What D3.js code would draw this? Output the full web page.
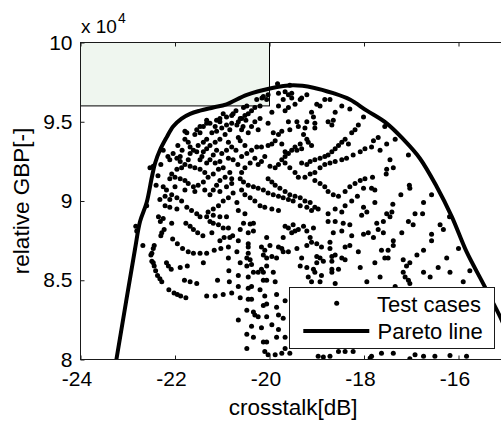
<!DOCTYPE html>
<html>
<head>
<meta charset="utf-8">
<script src="https://cdn.jsdelivr.net/npm/d3@7"></script>
<style>
  html, body { margin: 0; padding: 0; background: #fff; overflow: hidden; }
  svg { display: block; font-family: Arial, "Liberation Sans", sans-serif; }
</style>
</head>
<body>
<svg id="chart" width="501" height="423"></svg>
<script>
// Axis ticks
const crosstalkTicks = [-24, -22, -20, -18, -16];
const gbpTicks = [8, 8.5, 9, 9.5, 10];          // relative GBP, in units of 1e4

// Target region (crosstalk <= -20 dB, GBP >= 9.6e4)
const regionCrosstalk = [-24, -20];
const regionGbp = [9.6, 10];

// Pareto front: [crosstalk dB, relative GBP / 1e4]
const paretoLine = [
  [-23.24, 8.00], [-22.85, 8.69], [-22.74, 8.87], [-22.60, 8.99], [-22.49, 9.15],
  [-22.42, 9.24], [-22.32, 9.32], [-22.18, 9.40], [-22.04, 9.47], [-21.86, 9.52],
  [-21.68, 9.55], [-21.47, 9.57], [-21.19, 9.59], [-20.91, 9.61], [-20.48, 9.67],
  [-19.99, 9.71], [-19.50, 9.73], [-19.07, 9.715], [-18.65, 9.68], [-18.30, 9.64],
  [-17.94, 9.57], [-17.52, 9.49], [-17.17, 9.39], [-16.82, 9.27], [-16.46, 9.09],
  [-16.14, 8.90], [-15.83, 8.68], [-15.48, 8.48], [-15.12, 8.27], [-15.00, 8.19]
];

// Test cases: [crosstalk dB, relative GBP / 1e4]
const testCases = [
  // lower left arcs
  [-22.83,8.84],[-22.81,8.81],[-22.68,8.72],[-22.31,8.87],[-22.07,8.86],[-22.23,8.82],[-22.28,8.80],[-22.30,8.78],
  [-22.44,8.72],[-22.46,8.70],[-22.49,8.67],[-22.51,8.66],[-22.49,8.62],[-22.46,8.61],[-22.44,8.59],[-22.41,8.56],
  [-22.37,8.53],[-22.32,8.51],[-22.28,8.49],[-22.13,8.44],[-22.02,8.42],[-21.95,8.41],[-21.88,8.40],[-21.77,8.39],
  [-22.18,8.61],[-22.14,8.59],[-22.08,8.57],[-21.89,8.58],[-21.74,8.59],[-22.05,8.76],[-21.95,8.73],[-21.84,8.70],
  [-21.72,8.68],[-21.61,8.67],[-21.47,8.67],[-21.33,8.67],[-21.17,8.69],[-21.03,8.70],[-20.87,8.71],[-20.84,8.77],
  [-20.96,8.77],[-21.05,8.75],[-21.80,8.50],[-21.68,8.49],[-21.54,8.48],[-21.40,8.61],[-21.10,8.50],[-20.85,8.49],
  [-21.33,8.40],[-21.15,8.40],[-20.98,8.41],[-20.80,8.42],[-20.87,8.64],[-20.86,8.56],[-21.77,8.86],[-21.68,8.84],
  [-21.61,8.82],[-21.52,8.80],[-21.41,8.78],[-21.26,8.87],[-21.19,8.86],[-21.08,8.85],[-20.98,8.83],[-20.87,8.83],
  [-20.78,8.78],[-21.22,8.80],
  // lower middle
  [-20.55,8.86],[-20.41,8.855],[-20.34,8.86],[-20.62,8.82],[-20.45,8.80],[-20.34,8.81],[-20.66,8.75],[-20.45,8.73],
  [-20.45,8.71],[-20.69,8.68],[-20.45,8.67],[-20.48,8.64],[-20.41,8.63],[-20.62,8.61],[-20.38,8.60],[-20.48,8.59],
  [-20.66,8.53],[-20.45,8.52],[-20.34,8.55],[-20.66,8.46],[-20.45,8.45],[-20.38,8.46],[-20.62,8.39],[-20.45,8.38],
  [-20.38,8.38],[-20.48,8.31],[-20.34,8.30],[-20.31,8.28],[-20.66,8.25],[-20.38,8.21],[-20.48,8.16],[-20.34,8.14],
  [-20.48,8.07],[-20.06,8.77],[-19.99,8.72],[-20.10,8.69],[-20.13,8.66],[-20.06,8.64],[-19.95,8.65],[-19.85,8.64],
  [-20.06,8.59],[-20.17,8.57],[-20.24,8.55],[-20.13,8.55],[-19.92,8.55],[-20.13,8.50],[-20.06,8.50],[-19.88,8.49],
  [-20.20,8.44],[-20.10,8.40],[-19.85,8.41],[-19.67,8.37],[-20.06,8.35],[-20.13,8.34],[-19.85,8.33],[-20.24,8.27],
  [-20.06,8.27],[-19.81,8.28],[-19.71,8.26],[-20.17,8.20],[-19.95,8.22],[-19.81,8.19],[-19.85,8.14],[-19.67,8.14],
  [-20.13,8.11],[-20.06,8.11],[-20.10,8.05],[-19.74,8.04],[-19.88,8.03],[-19.67,8.07],[-19.57,8.04],[-20.03,8.03],
  [-20.17,8.71],[-19.81,8.71],[-19.74,8.70],[-19.71,8.68],[-19.60,8.68],[-19.67,8.84],[-19.60,8.83],[-19.71,8.77],
  [-19.53,8.80],[-19.46,8.81],[-19.39,8.82],[-19.50,8.85],[-19.28,8.84],[-19.21,8.81],[-19.14,8.77],[-19.07,8.83],
  [-19.21,8.72],[-19.11,8.74],[-19.00,8.73],[-18.90,8.71],[-18.72,8.70],[-19.42,8.70],[-19.32,8.64],[-19.35,8.59],
  [-19.21,8.58],[-19.07,8.57],[-19.18,8.52],[-19.04,8.55],[-18.90,8.53],[-18.93,8.49],[-19.11,8.49],[-19.00,8.65],
  [-18.93,8.64],[-18.86,8.62],[-19.00,8.61],[-18.68,8.65],[-18.61,8.66],[-18.68,8.62],[-18.68,8.57],[-18.68,8.55],
  [-18.54,8.57],[-18.47,8.64],[-18.40,8.63],[-18.30,8.72],[-18.40,8.71],[-18.26,8.78],[-18.12,8.68],[-18.08,8.58],
  [-18.01,8.79],[-17.91,8.80],[-17.94,8.49],[-18.76,8.87],[-18.61,8.87],[-18.44,8.86],[-18.30,8.85],[-18.47,8.81],
  [-18.65,8.80],[-18.72,8.74],[-18.61,8.48],[-18.97,8.02],[-18.86,8.015],[-18.72,8.02],[-18.54,8.05],[-18.40,8.05],
  [-18.23,8.05],[-17.87,8.01],[-17.03,8.005],
  // lower right
  [-17.63,8.04],[-17.38,8.04],[-16.92,8.03],[-16.74,8.02],[-16.50,8.02],[-16.18,8.025],[-15.83,8.02],[-17.84,8.02],
  [-17.73,8.86],[-17.59,8.87],[-17.70,8.82],[-17.80,8.77],[-17.59,8.80],[-17.38,8.75],[-17.38,8.72],[-17.20,8.80],
  [-17.06,8.87],[-16.96,8.85],[-16.57,8.79],[-16.57,8.75],[-16.39,8.85],[-16.32,8.82],[-17.63,8.69],[-17.49,8.69],
  [-17.56,8.64],[-17.49,8.64],[-17.77,8.61],[-16.88,8.66],[-16.74,8.69],[-17.17,8.63],[-17.03,8.61],[-17.10,8.59],
  [-17.17,8.55],[-17.13,8.52],[-17.06,8.50],[-17.03,8.48],[-17.66,8.52],[-17.34,8.46],[-16.74,8.55],[-16.60,8.52],
  [-16.43,8.58],[-16.25,8.64],[-16.18,8.55],[-16.00,8.70],[-15.90,8.49],[-15.76,8.56],
  // upper right
  [-17.56,9.47],[-17.70,9.40],[-17.80,9.38],[-17.84,9.34],[-17.66,9.32],[-17.52,9.36],[-17.34,9.39],[-17.06,9.29],
  [-17.45,9.26],[-17.38,9.21],[-17.52,9.20],[-17.53,9.17],[-17.82,9.15],[-17.84,9.08],[-17.77,9.07],[-17.77,8.99],
  [-17.04,9.10],[-17.03,9.08],[-17.22,9.04],[-16.57,9.04],[-17.39,8.98],[-17.52,8.92],[-17.41,8.93],[-17.45,8.90],
  [-16.92,8.92],[-16.76,8.92],[-16.74,8.99],[-16.19,8.90],
  // upper middle
  [-19.83,9.74],[-19.57,9.73],[-20.03,9.67],[-20.06,9.64],[-20.20,9.60],[-20.31,9.59],[-20.38,9.57],[-20.45,9.55],
  [-20.52,9.54],[-20.59,9.52],[-20.66,9.50],[-20.69,9.48],[-19.81,9.68],[-19.67,9.69],[-19.60,9.67],[-19.53,9.68],
  [-19.21,9.67],[-19.35,9.64],[-19.46,9.61],[-19.60,9.59],[-19.67,9.57],[-19.81,9.60],[-19.95,9.56],[-20.03,9.49],
  [-20.20,9.52],[-20.31,9.50],[-20.38,9.47],[-20.24,9.45],[-20.45,9.43],[-20.59,9.45],[-20.66,9.40],[-19.00,9.61],
  [-18.93,9.60],[-18.83,9.64],[-18.72,9.64],[-18.61,9.56],[-18.47,9.60],[-18.30,9.58],[-19.11,9.56],[-19.07,9.53],
  [-19.04,9.49],[-19.04,9.46],[-19.21,9.50],[-19.25,9.46],[-19.42,9.50],[-19.39,9.47],[-19.60,9.50],[-19.57,9.45],
  [-19.74,9.44],[-19.81,9.42],[-19.92,9.43],[-18.65,9.51],[-18.68,9.48],[-18.76,9.50],[-18.01,9.53],[-18.12,9.48],
  [-18.19,9.45],[-18.26,9.43],[-18.40,9.39],[-18.47,9.37],[-18.33,9.36],[-18.54,9.35],[-18.61,9.33],[-18.68,9.31],
  [-18.76,9.29],[-18.83,9.28],[-18.93,9.27],[-19.04,9.26],[-19.14,9.25],[-19.28,9.42],[-19.21,9.39],[-19.18,9.37],
  [-19.11,9.35],[-19.35,9.36],[-19.46,9.34],[-19.53,9.32],[-19.60,9.30],[-19.67,9.28],[-19.74,9.26],[-19.42,9.32],
  [-19.32,9.33],[-19.88,9.38],[-19.95,9.36],[-20.03,9.35],[-20.17,9.34],[-20.27,9.34],[-20.38,9.32],[-20.48,9.30],
  [-20.59,9.28],[-19.74,9.36],[-19.67,9.31],[-20.10,9.28],[-20.17,9.25],[-20.24,9.23],[-20.31,9.27],[-20.41,9.24],
  [-20.52,9.21],[-20.59,9.18],[-20.62,9.14],[-20.55,9.12],[-20.45,9.10],[-20.34,9.09],[-20.24,9.08],[-20.13,9.07],
  [-20.03,9.05],[-19.92,9.04],[-19.81,9.03],[-19.71,9.02],[-19.60,9.01],[-19.50,9.00],[-20.03,9.14],[-19.95,9.12],
  [-19.88,9.10],[-19.78,9.08],[-19.67,9.06],[-19.57,9.04],[-19.46,9.03],[-19.35,9.02],[-19.99,9.22],[-19.88,9.21],
  [-19.81,9.23],[-19.67,9.24],[-19.57,9.21],[-19.46,9.18],[-19.39,9.15],[-19.25,9.15],[-19.14,9.17],[-19.04,9.18],
  [-18.93,9.21],[-18.83,9.23],[-18.72,9.24],[-18.61,9.25],[-18.47,9.26],[-18.37,9.27],[-18.23,9.29],[-18.08,9.31],
  [-17.98,9.33],[-19.32,9.24],[-19.21,9.23],[-19.04,9.13],[-18.93,9.11],[-18.83,9.09],[-18.76,9.06],[-18.65,9.04],
  [-18.54,9.03],[-18.40,9.06],[-18.30,9.09],[-18.19,9.11],[-18.08,9.13],[-17.98,9.14],[-18.01,9.08],[-18.14,9.03],
  [-18.26,9.00],[-18.40,8.97],[-18.47,8.93],[-18.61,8.95],[-18.76,8.92],[-19.25,9.00],[-19.14,8.99],[-19.04,8.96],
  [-18.97,8.95],[-19.35,8.97],[-19.21,8.96],[-19.11,8.94],[-20.59,9.07],[-20.52,9.04],[-20.41,9.02],[-20.31,9.00],
  [-20.20,8.97],[-20.10,8.96],[-19.95,8.95],[-19.81,8.94],[-20.69,8.99],[-20.66,8.94],[-20.52,8.92],[-18.01,8.96],
  [-17.94,8.93],[-18.05,8.91],
  // upper left
  [-20.98,9.55],[-20.91,9.53],[-20.80,9.54],[-21.05,9.50],[-21.15,9.47],[-21.26,9.49],[-21.33,9.49],[-21.47,9.47],
  [-21.54,9.45],[-21.47,9.43],[-21.58,9.42],[-21.75,9.43],[-21.79,9.39],[-21.72,9.37],[-21.68,9.34],[-21.61,9.32],
  [-21.54,9.31],[-21.51,9.35],[-21.40,9.37],[-21.33,9.39],[-21.22,9.43],[-21.12,9.44],[-21.01,9.46],[-20.91,9.48],
  [-20.80,9.49],[-20.84,9.45],[-20.94,9.42],[-21.05,9.39],[-21.15,9.37],[-21.26,9.35],[-21.33,9.33],[-21.40,9.31],
  [-21.43,9.28],[-21.47,9.26],[-20.87,9.37],[-20.80,9.34],[-20.91,9.32],[-21.01,9.30],[-21.12,9.32],[-21.19,9.29],
  [-21.26,9.26],[-21.33,9.24],[-21.15,9.24],[-21.05,9.25],[-20.87,9.27],[-20.77,9.26],[-22.04,9.30],[-21.96,9.27],
  [-21.89,9.25],[-21.79,9.23],[-21.68,9.22],[-21.58,9.21],[-21.47,9.20],[-21.37,9.18],[-21.72,9.26],[-21.86,9.21],
  [-21.96,9.20],[-22.07,9.17],[-22.11,9.14],[-22.00,9.15],[-21.89,9.14],[-21.79,9.13],[-21.72,9.11],[-21.61,9.09],
  [-21.51,9.10],[-21.40,9.12],[-21.30,9.15],[-21.19,9.17],[-21.08,9.20],[-20.98,9.21],[-20.84,9.18],[-20.94,9.15],
  [-21.05,9.13],[-21.12,9.10],[-21.19,9.07],[-21.26,9.04],[-21.05,9.06],[-20.91,9.09],[-20.80,9.11],[-20.77,9.05],
  [-20.87,9.02],[-20.98,9.00],[-21.08,8.97],[-21.19,8.95],[-21.30,8.93],[-22.18,9.07],[-22.07,9.04],[-21.96,9.02],
  [-21.86,9.00],[-22.11,9.01],[-22.21,9.03],[-22.32,9.01],[-22.21,8.97],[-22.11,8.96],[-21.96,8.95],[-21.75,8.96],
  [-21.65,8.94],[-21.54,8.92],[-21.47,8.90],[-21.33,8.90],[-21.19,8.91],[-21.05,8.90],[-20.91,8.90],[-22.35,8.90],
  [-22.25,8.89],[-22.53,9.21],[-22.46,9.22],[-22.25,9.32],[-22.60,8.97],
  [-21.40,9.47],[-21.12,9.51],[-20.71,9.57],[-20.55,9.59],[-20.27,9.64],[-20.16,9.65],[-20.62,9.52],[-20.56,9.47],
  [-20.50,9.51],[-20.13,9.66],[-19.32,9.65],[-19.71,9.64],[-19.53,9.65],
  [-21.79,9.44],[-21.33,9.51],[-21.05,9.52],[-20.77,9.55],[-20.48,9.60],[-22.11,9.26],[-21.89,9.28],[-21.68,9.30],
  [-22.25,9.09],[-22.00,9.09],[-21.79,9.07],[-21.58,9.06],[-21.37,9.07],[-20.62,9.38],[-20.52,9.35],[-20.71,9.32],
  [-20.67,9.23],[-20.80,9.14],[-22.40,9.10],[-22.36,9.16],[-22.30,9.23],[-22.15,9.28],[-21.94,9.35],[-21.85,9.32]
];

const svg = d3.select("#chart");
const plotLeft = 80.5, plotRight = 505.75, plotTop = 42.5, plotBottom = 359.5;
const x = d3.scaleLinear().domain([-24, -15]).range([plotLeft, plotRight]);
const y = d3.scaleLinear().domain([8, 10]).range([plotBottom, plotTop]);

svg.append("defs").append("clipPath").attr("id", "plotClip")
  .append("rect").attr("x", plotLeft).attr("y", plotTop)
  .attr("width", plotRight - plotLeft).attr("height", plotBottom - plotTop);

// target region
svg.append("rect")
  .attr("x", x(regionCrosstalk[0])).attr("y", y(regionGbp[1]))
  .attr("width", x(regionCrosstalk[1]) - x(regionCrosstalk[0]))
  .attr("height", y(regionGbp[0]) - y(regionGbp[1]))
  .attr("fill", "#eff6ef").attr("stroke", "#000").attr("stroke-width", 1);

const plot = svg.append("g").attr("clip-path", "url(#plotClip)");

plot.selectAll("circle.case").data(testCases).join("circle")
  .attr("class", "case")
  .attr("cx", d => x(d[0])).attr("cy", d => y(d[1]))
  .attr("r", 2.5).attr("fill", "#000");

plot.append("path").datum(paretoLine)
  .attr("fill", "none").attr("stroke", "#000").attr("stroke-width", 4)
  .attr("stroke-linejoin", "round")
  .attr("d", d3.line().x(d => x(d[0])).y(d => y(d[1])).curve(d3.curveCatmullRom.alpha(0.5)));

// axes (inward ticks, MATLAB style)
const axisColor = "#1a1a1a";
const fmt = d => String(d);

const gx = svg.append("g").attr("transform", `translate(0,${plotBottom})`)
  .call(d3.axisBottom(x).tickValues(crosstalkTicks).tickSize(-4).tickSizeOuter(0).tickPadding(12).tickFormat(fmt));
gx.selectAll("text").attr("dx", -4);

const gxTop = svg.append("g").attr("transform", `translate(0,${plotTop})`)
  .call(d3.axisTop(x).tickValues(crosstalkTicks).tickSize(-4).tickSizeOuter(0).tickFormat(""));

const gy = svg.append("g").attr("transform", `translate(${plotLeft},0)`)
  .call(d3.axisLeft(y).tickValues(gbpTicks).tickSize(-4).tickSizeOuter(0).tickPadding(8).tickFormat(fmt));

const gyRight = svg.append("g").attr("transform", `translate(${plotRight},0)`)
  .call(d3.axisRight(y).tickValues(gbpTicks).tickSize(-4).tickSizeOuter(0).tickFormat(""));

[gx, gxTop, gy, gyRight].forEach(g => {
  g.select(".domain").remove();
  g.selectAll("line").attr("stroke", axisColor);
  g.selectAll("text").attr("fill", "#000").attr("font-size", 21)
    .attr("font-family", "Arial, 'Liberation Sans', sans-serif");
});

// frame
svg.append("rect").attr("x", plotLeft).attr("y", plotTop)
  .attr("width", plotRight - plotLeft).attr("height", plotBottom - plotTop)
  .attr("fill", "none").attr("stroke", axisColor).attr("stroke-width", 1);

// exponent label
const expo = svg.append("text").attr("x", 81).attr("y", 33).attr("font-size", 19).attr("fill", "#000");
expo.append("tspan").text("x 10");
expo.append("tspan").attr("font-size", 14).attr("dy", -10).attr("dx", 1).text("4");

// axis titles
svg.append("text").attr("x", (plotLeft + plotRight) / 2).attr("y", 415)
  .attr("text-anchor", "middle").attr("font-size", 22.5).attr("fill", "#000")
  .text("crosstalk[dB]");
svg.append("text").attr("transform", `translate(28.5,${(plotTop + plotBottom) / 2}) rotate(-90)`)
  .attr("text-anchor", "middle").attr("font-size", 22.5).attr("fill", "#000")
  .text("relative GBP[-]");

// legend
const lg = svg.append("g");
lg.append("rect").attr("x", 289.5).attr("y", 287.5).attr("width", 205).attr("height", 61)
  .attr("fill", "#fff").attr("stroke", axisColor).attr("stroke-width", 1);
lg.append("circle").attr("cx", 336.7).attr("cy", 303.3).attr("r", 2.5).attr("fill", "#000");
lg.append("line").attr("x1", 303.3).attr("x2", 369.3).attr("y1", 331).attr("y2", 331)
  .attr("stroke", "#000").attr("stroke-width", 4);
lg.append("text").attr("x", 377).attr("y", 311.5).attr("font-size", 22).attr("fill", "#000").text("Test cases");
lg.append("text").attr("x", 377.5).attr("y", 339).attr("font-size", 22).attr("fill", "#000").text("Pareto line");
</script>
</body>
</html>
